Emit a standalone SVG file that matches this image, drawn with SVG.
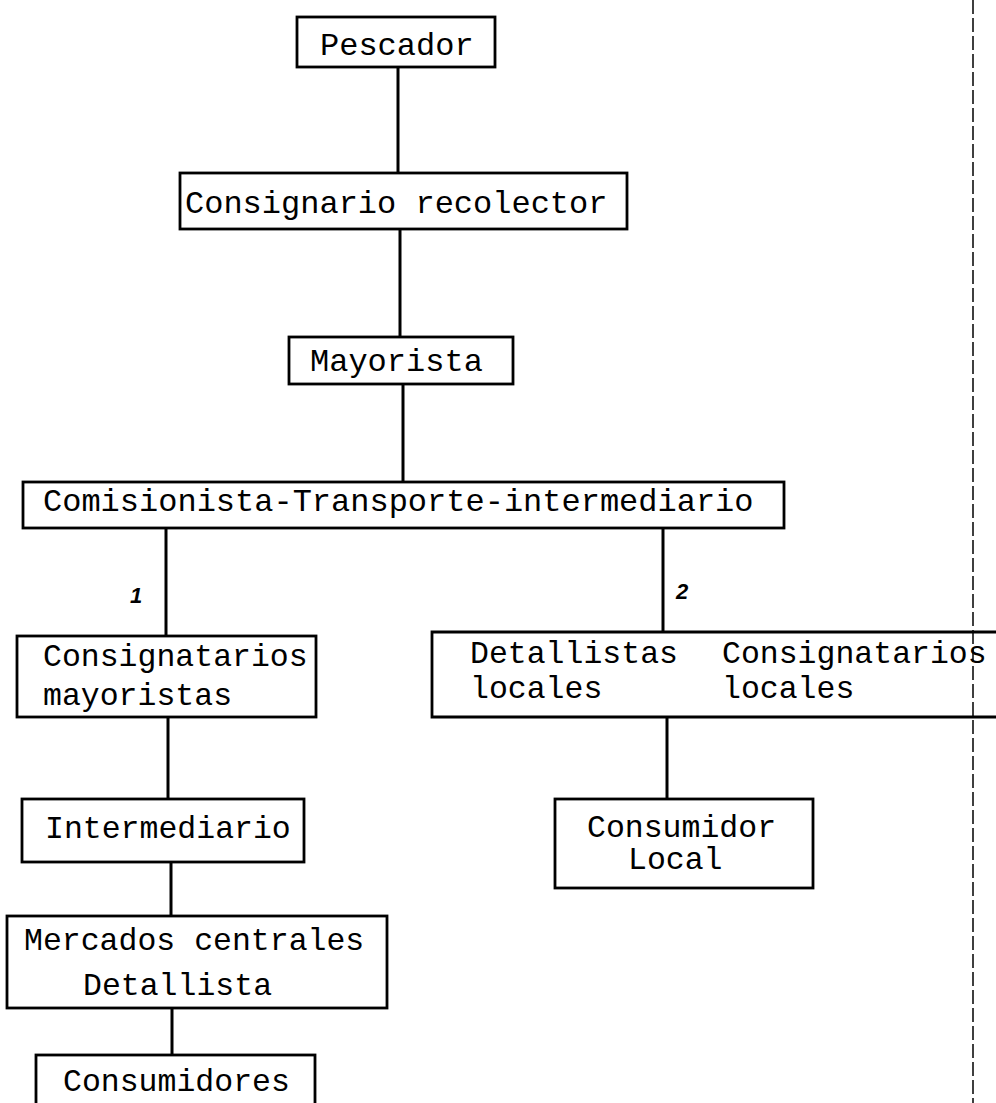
<svg xmlns="http://www.w3.org/2000/svg" width="996" height="1103" viewBox="0 0 996 1103">
<style>
.box{fill:none;stroke:#000;stroke-width:2.8}
.t{font-family:"Liberation Mono","Courier New",monospace;font-size:32px;fill:#000}
.s{font-family:"Liberation Mono","Courier New",monospace;font-size:31.5px;fill:#000}
.c{stroke:#000;stroke-width:3;fill:none}
.lbl{font-family:"Liberation Sans",Arial,sans-serif;font-size:22px;font-weight:bold;font-style:italic;fill:#000}
</style>
<rect width="996" height="1103" fill="#fff"/>
<g id="connectors">
<line class="c" x1="398" y1="67" x2="398" y2="173"/>
<line class="c" x1="400" y1="229" x2="400" y2="337"/>
<line class="c" x1="403" y1="384" x2="403" y2="482"/>
<line class="c" x1="166" y1="528" x2="166" y2="636"/>
<text class="lbl" x="130" y="603">1</text>
<line class="c" x1="663" y1="528" x2="663" y2="632"/>
<text class="lbl" x="676" y="599">2</text>
<line class="c" x1="168" y1="717" x2="168" y2="799"/>
<line class="c" x1="171" y1="862" x2="171" y2="916"/>
<line class="c" x1="172" y1="1008" x2="172" y2="1055"/>
<line class="c" x1="667" y1="717" x2="667" y2="799"/>
</g>
<line x1="973" y1="0" x2="973" y2="1103" stroke="#000" stroke-width="1.5" stroke-dasharray="14 4"/>
<g id="pescador"><rect class="box" x="297" y="17" width="198" height="50"/><text class="t" x="320" y="55">Pescador</text></g>
<g id="consignario-recolector"><rect class="box" x="180" y="173" width="447" height="56"/><text class="t" x="185" y="213">Consignario recolector</text></g>
<g id="mayorista"><rect class="box" x="289" y="337" width="224" height="47"/><text class="t" x="310" y="371">Mayorista</text></g>
<g id="comisionista"><rect class="box" x="23" y="482" width="761" height="46"/><text class="t" x="43" y="511">Comisionista-Transporte-intermediario</text></g>
<g id="consignatarios-mayoristas"><rect class="box" x="17" y="636" width="299" height="81"/><text class="s" x="43" y="666">Consignatarios</text><text class="s" x="43" y="705">mayoristas</text></g>
<g id="intermediario"><rect class="box" x="22" y="799" width="282" height="63"/><text class="s" x="45" y="838">Intermediario</text></g>
<g id="mercados-centrales"><rect class="box" x="7" y="916" width="380" height="92"/><text class="s" x="24" y="950">Mercados centrales</text><text class="s" x="83" y="995">Detallista</text></g>
<g id="consumidores"><rect class="box" x="36" y="1055" width="279" height="60"/><text class="s" x="63" y="1091">Consumidores</text></g>
<g id="detallistas-locales"><path class="box" d="M996 632 H432 V717 H996"/><text class="s" x="470" y="663">Detallistas</text><text class="s" x="722" y="663">Consignatarios</text><text class="s" x="470" y="698">locales</text><text class="s" x="722" y="698">locales</text></g>
<g id="consumidor-local"><rect class="box" x="555" y="799" width="258" height="89"/><text class="s" x="587" y="837">Consumidor</text><text class="s" x="628" y="869">Local</text></g>
</svg>
